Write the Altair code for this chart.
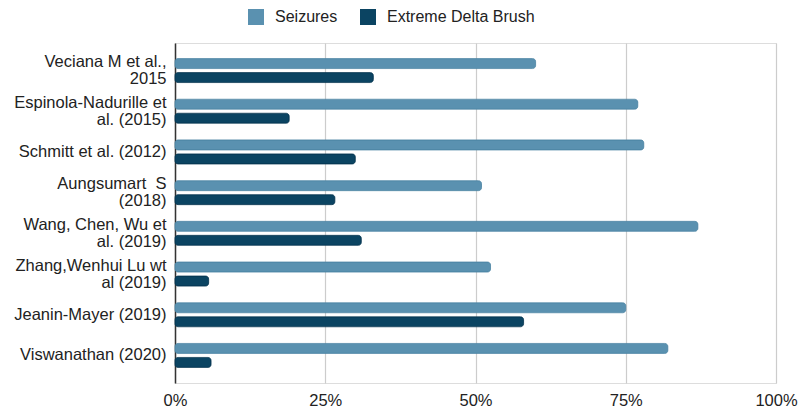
import altair as alt
import pandas as pd

studies = [
    "Veciana M et al.,|2015",
    "Espinola-Nadurille et|al. (2015)",
    "Schmitt et al. (2012)",
    "Aungsumart \u00a0S|(2018)",
    "Wang, Chen, Wu et|al. (2019)",
    "Zhang,Wenhui Lu wt|al (2019)",
    "Jeanin-Mayer (2019)",
    "Viswanathan (2020)",
]
seizures = [60, 77, 78, 51, 87, 52.5, 75, 82]
delta_brush = [33, 19, 30, 26.6, 31, 5.6, 58, 6]
series = ["Seizures", "Extreme Delta Brush"]
fill_colors = ["#5a91b0", "#0b4462"]
stroke_colors = ["#4d85a5", "#063650"]
ticks = [0, 25, 50, 75, 100]

rows = []
for s, a, b in zip(studies, seizures, delta_brush):
    rows.append({"study": s, "series": series[0], "value": a})
    rows.append({"study": s, "series": series[1], "value": b})
df = pd.DataFrame(rows)

FONT = "Liberation Sans"

chart = (
    alt.Chart(df)
    .mark_bar(cornerRadius=3, strokeWidth=0.8)
    .encode(
        x=alt.X(
            "value:Q",
            scale=alt.Scale(domain=[0, 100], nice=False),
            axis=alt.Axis(
                values=ticks,
                labelExpr="datum.value + '%'",
                title=None,
                grid=True,
                gridColor="#cccccc",
                gridWidth=1.2,
                domain=False,
                ticks=False,
                labelFlush=False,
                labelFontSize=16.5,
                labelColor="#222222",
                labelPadding=9,
                labelFont=FONT,
            ),
        ),
        y=alt.Y(
            "study:N",
            sort=studies,
            scale=alt.Scale(paddingInner=0, paddingOuter=0.177),
            axis=alt.Axis(
                title=None,
                labelExpr="split(datum.label, '|')",
                labelFontSize=16.5,
                labelColor="#222222",
                labelFont=FONT,
                labelPadding=9,
                labelLineHeight=17,
                labelLimit=300,
                labelOffset={
                    "condition": {"test": "indexof(datum.value, '|') >= 0", "value": -8.5},
                    "value": 0,
                },
                ticks=False,
                domainColor="#333333",
                domainWidth=1.5,
            ),
        ),
        yOffset=alt.YOffset(
            "series:N",
            sort=series,
            scale=alt.Scale(domain=series, paddingInner=0.286, paddingOuter=0.596),
        ),
        color=alt.Color(
            "series:N",
            scale=alt.Scale(domain=series, range=fill_colors),
            legend=alt.Legend(
                orient="none",
                legendX=73,
                legendY=-34,
                direction="horizontal",
                title=None,
                symbolType="square",
                symbolSize=256,
                symbolStrokeWidth=0,
                labelFontSize=16,
                labelFont=FONT,
                labelColor="#222222",
                labelOffset=11,
                columnPadding=22,
            ),
        ),
        stroke=alt.Stroke(
            "series:N",
            scale=alt.Scale(domain=series, range=stroke_colors),
            legend=None,
        ),
    )
    .properties(
        width=601,
        height=340,
        padding={"left": 175, "top": 43, "right": 25, "bottom": 31},
        autosize="none",
    )
    .configure_view(stroke=None)
    .configure(background="white")
)

chart.save("out.html", embed_options={"renderer": "svg", "actions": False})
